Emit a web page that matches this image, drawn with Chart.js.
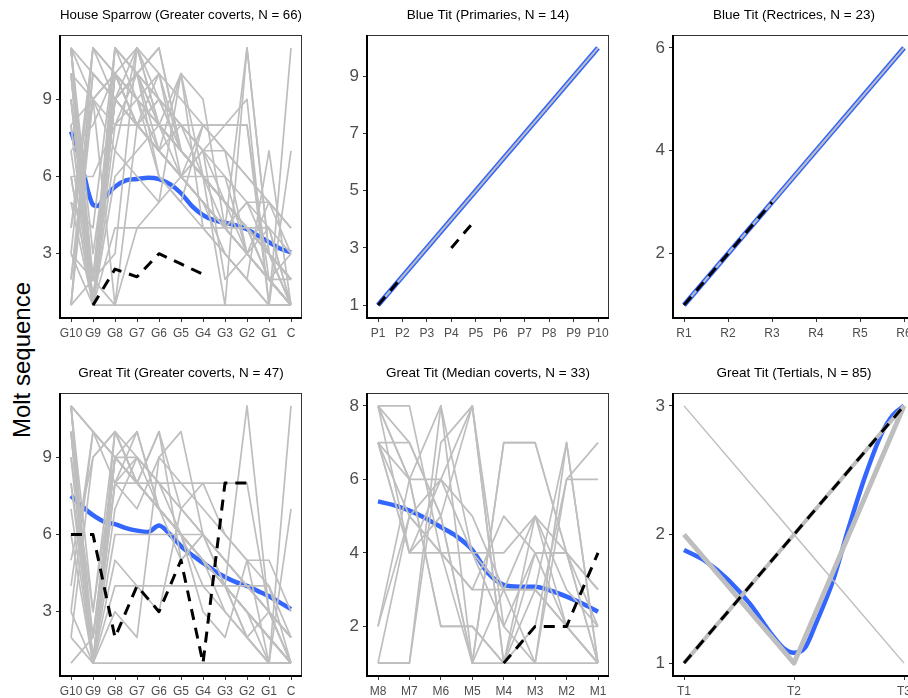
<!DOCTYPE html>
<html><head><meta charset="utf-8">
<script src="https://cdn.jsdelivr.net/npm/chart.js@4/dist/chart.umd.min.js"></script>
<style>
html,body{margin:0;padding:0;background:#fff;width:908px;height:698px;overflow:hidden;position:relative;font-family:"Liberation Sans",Arial,sans-serif;}
canvas{position:absolute;}
#ylab{position:absolute;left:22px;top:360px;transform:translate(-50%,-50%) rotate(-90deg);font-size:24px;white-space:nowrap;color:#000;}
</style></head><body>
<div id="ylab">Molt sequence</div>
<script>
// ---------- House Sparrow, greater coverts ----------
const hsCats = ['G10','G9','G8','G7','G6','G5','G4','G3','G2','G1','C'];
const hsYTicks = [3,6,9];
const hsGray = [
 [11,1,10,9,8,7,6,5,4,3,2],
 [11,10,9,8,7,6,5,4,3,2,1],
 [10,1,11,9,8,7,6,5,4,3,2],
 [11,2,10,9,8,6,7,5,4,3,1],
 [9,1,10,11,8,7,6,5,4,2,3],
 [8,1,9,10,11,7,6,5,4,3,2],
 [11,9,10,8,7,6,5,4,3,2,1],
 [6,6,8,8,8,8,8,8,8,1,1],
 [1,11,10,9,8,7,6,5,4,3,2],
 [2,10,9,11,8,7,6,5,4,3,1],
 [3,1,4,4,4,4,4,4,4,4,1],
 [5,1,6,7,8,10,9,4,3,2,1],
 [4,11,9,10,6,5,8,7,3,2,1],
 [7,1,8,9,10,6,5,4,3,2,1],
 [11,1,9,10,7,8,6,1,11,3,2],
 [10,9,1,8,7,6,5,4,3,2,1],
 [1,2,3,11,10,9,8,7,6,5,4],
 [3,2,1,4,5,6,7,8,9,1,11],
 [10,1,7,11,9,8,7,7,6,5,4],
 [9,1,1,1,1,1,1,1,1,1,1],
 [8,9,7,6,5,10,4,3,2,1,1],
 [5,4,11,10,9,8,7,6,3,2,1],
 [6,1,11,10,9,8,7,2,3,5,4],
 [4,9,10,8,7,6,5,3,2,1,7],
 [3,11,10,8,9,7,6,5,4,2,1],
 [2,9,8,10,11,7,6,5,3,4,1],
 [7,8,10,9,6,5,4,3,2,7,1],
 [1,10,9,8,7,6,5,4,11,3,2],
 [11,1,9,8,10,7,6,5,4,3,2],
 [10,2,9,8,7,6,5,4,5,5,3],
 [8,1,10,9,7,6,8,8,8,2,2],
 [11,3,9,10,8,7,6,5,4,2,1],
 [10,1,9,8,7,10,6,5,4,3,2],
 [9,2,11,10,8,7,6,5,4,3,1],
 [11,1,10,8,9,7,6,4,5,3,2],
 [6,1,9,8,7,6,6,6,5,4,3],
 [1,9,10,8,7,6,5,4,3,2,1]
];
const hsSmoothX = [1,1.2,1.4,1.6,1.8,2,2.2,2.5,3,3.5,4,4.5,5,5.5,6,6.5,7,7.5,8,8.5,9,9.5,10,10.5,11];
const hsSmoothY = [7.75,7.25,6.7,6.05,5.35,4.9,4.85,5.15,5.6,5.85,5.9,5.95,5.9,5.7,5.35,4.85,4.5,4.3,4.2,4.1,3.95,3.7,3.45,3.2,3.05];
const hsDashed = [null,1,2.4,2.1,3,2.6,2.2,null,null,null,null];

// ---------- Blue Tit, primaries ----------
const btpCats = ['P1','P2','P3','P4','P5','P6','P7','P8','P9','P10'];
const btpYTicks = [1,3,5,7,9];
const btpGray = [[1,2,3,4,5,6,7,8,9,10]];
const btpSmoothX = [1,10];
const btpSmoothY = [1,10];
const btpDashed = [1,2,null,3,4,null,null,null,null,null];

// ---------- Blue Tit, rectrices ----------
const btrCats = ['R1','R2','R3','R4','R5','R6'];
const btrYTicks = [2,4,6];
const btrGray = [[1,2,3,4,5,6]];
const btrSmoothX = [1,6];
const btrSmoothY = [1,6];
const btrDashed = [1,2,3,null,null,null];

// ---------- Great Tit, greater coverts ----------
const gtgCats = ['G10','G9','G8','G7','G6','G5','G4','G3','G2','G1','C'];
const gtgYTicks = [3,6,9];
const gtgGray = [
 [11,1,10,9,8,7,6,5,4,3,2],
 [11,10,9,8,7,6,5,4,3,2,1],
 [10,1,9,8,10,7,6,5,4,3,2],
 [9,3,10,8,7,6,5,4,2,3,1],
 [8,1,9,10,7,6,5,4,3,2,1],
 [4,10,9,8,7,6,5,3,2,1,1],
 [3,1,4,4,4,4,4,4,4,4,2],
 [2,9,10,8,7,6,5,4,3,1,1],
 [1,2,8,8,8,8,8,8,8,3,1],
 [11,1,6,6,6,6,6,5,4,3,2],
 [10,1,8,7,9,10,6,5,4,3,2],
 [7,1,9,8,10,5,6,4,3,2,1],
 [11,1,7,9,8,6,5,4,11,3,2],
 [6,1,1,1,1,1,1,1,1,1,1],
 [8,2,9,8,7,6,3,2,5,1,11],
 [5,9,10,8,7,6,4,3,2,1,7],
 [11,10,8,9,7,5,6,4,3,2,1],
 [9,1,8,10,7,6,5,4,3,2,1],
 [3,10,9,8,7,6,5,4,2,1,1],
 [10,1,3,2,9,8,7,6,5,4,1],
 [2,1,5,4,3,7,8,6,5,5,3],
 [11,3,9,8,7,6,5,4,3,2,1],
 [10,2,9,9,8,7,6,5,4,3,1]
];
const gtgSmoothX = [1,1.5,2,2.5,3,3.5,4,4.5,5,5.5,6,6.5,7,7.5,8,8.5,9,9.5,10,10.5,11];
const gtgSmoothY = [7.5,7.1,6.75,6.5,6.4,6.25,6.15,6.1,6.35,6.0,5.55,5.2,4.9,4.6,4.35,4.15,4.0,3.8,3.6,3.35,3.1];
const gtgDashed = [6,6,2,4,3,5,1,8,8,null,null];

// ---------- Great Tit, median coverts ----------
const gtmCats = ['M8','M7','M6','M5','M4','M3','M2','M1'];
const gtmYTicks = [2,4,6,8];
const gtmGray = [
 [8,6,6,4,3,3,2,1],
 [7,7,5,8,1,2,6,7],
 [8,8,4,1,1,1,1,1],
 [2,6,8,1,7,7,4,1],
 [1,1,7,8,2,4,4,2],
 [7,4,4,4,4,5,2,1],
 [8,6,2,2,1,3,7,1],
 [1,5,6,8,1,5,3,2],
 [7,4,6,5,3,3,2,1],
 [8,7,5,1,7,7,4,3],
 [2,5,4,3,5,4,4,3],
 [1,1,8,4,2,1,6,6],
 [7,6,2,2,1,4,2,2],
 [7,5,4,3,3,1,7,1],
 [8,4,5,1,3,5,4,1]
];
const gtmSmoothX = [1,1.5,2,2.5,3,3.5,4,4.5,5,5.5,6,6.5,7,7.5,8];
const gtmSmoothY = [5.4,5.3,5.15,4.95,4.7,4.45,4.08,3.45,3.13,3.08,3.08,2.97,2.81,2.62,2.4];
const gtmDashed = [null,null,null,null,1,2,2,4];

// ---------- Great Tit, tertials ----------
const gttCats = ['T1','T2','T3'];
const gttYTicks = [1,2,3];
const gttGray = [[2,1,3],[1,2,3],[3,2,1]];
const gttSmoothX = [1,1.2,1.4,1.6,1.8,1.9,2,2.1,2.2,2.35,2.5,2.65,2.8,2.9,3];
const gttSmoothY = [1.88,1.79,1.65,1.46,1.22,1.12,1.08,1.12,1.31,1.63,2.06,2.46,2.79,2.93,3.0];
const gttDashed = [1,2,3];

// ---------- drawing ----------
const FONT = '"Liberation Sans", Arial, sans-serif';
const BLUE = '#3366FF', GRAY = '#BEBEBE';

const borderPlugin = {
  id:'panelBorder',
  afterDatasetsDraw(chart){
    const {ctx, chartArea:a} = chart;
    ctx.save();
    ctx.strokeStyle = '#333'; ctx.lineWidth = 1;
    ctx.strokeRect(a.left+0.5, a.top+0.5, a.right-a.left-1, a.bottom-a.top-1);
    ctx.strokeStyle = '#000'; ctx.lineWidth = 2;
    ctx.beginPath(); ctx.moveTo(a.left, a.top); ctx.lineTo(a.left, a.bottom); ctx.lineTo(a.right, a.bottom); ctx.stroke();
    ctx.restore();
  }
};

function makePanel(p){
  const cv = document.createElement('canvas');
  const W = 294, H = 344;
  cv.width = W; cv.height = H;
  cv.style.left = p.left + 'px'; cv.style.top = p.top + 'px';
  cv.style.width = W + 'px'; cv.style.height = H + 'px';
  document.body.appendChild(cv);
  const n = p.cats.length;
  const toPts = arr => arr.map((v,i)=>({x:i+1, y:v}));
  const ds = [];
  ds.push({data:p.sx.map((x,i)=>({x:x, y:p.sy[i]})), borderColor:BLUE, borderWidth:p.blueW, order:3, cubicInterpolationMode:'monotone'});
  p.gray.forEach((g,k)=>ds.push({data:toPts(g), borderColor:GRAY, borderWidth:(p.grayWs ? p.grayWs[k] : p.grayW), order:2}));
  ds.push({data:toPts(p.dash), borderColor:'#000', borderWidth:3, borderDash:[11,8], order:1});
  const yr = p.ymax - p.ymin;
  new Chart(cv, {
    type:'line',
    data:{datasets:ds},
    options:{
      responsive:false, animation:false, events:[],
      spanGaps:false,
      elements:{point:{radius:0}, line:{tension:0, borderCapStyle:'butt', borderJoinStyle:'round', fill:false}},
      layout:{padding:{left:0, right:12, top:0, bottom:0}},
      plugins:{
        legend:{display:false}, tooltip:{enabled:false},
        title:{display:true, text:p.title, fullSize:false, color:'#000', font:{family:FONT, size:13.5, weight:'normal'}, padding:{top:7.5, bottom:11.3}}
      },
      scales:{
        x:{type:'linear', min:1-0.05*(n-1), max:n+0.05*(n-1),
           afterBuildTicks:s=>{ s.ticks = p.cats.map((c,i)=>({value:i+1})); },
           ticks:{autoSkip:false, maxRotation:0, minRotation:0, color:'#4D4D4D', font:{family:FONT, size:12}, padding:4,
                  callback:v=>p.cats[Math.round(v)-1]},
           grid:{drawOnChartArea:false, drawTicks:true, tickLength:4, color:'#333', tickWidth:1},
           border:{display:false},
           afterFit:s=>{ s.height = 26; }},
        y:{type:'linear', min:p.ymin-0.05*yr, max:p.ymax+0.05*yr,
           afterBuildTicks:s=>{ s.ticks = p.yt.map(v=>({value:v})); },
           ticks:{color:'#4D4D4D', font:{family:FONT, size:17}, padding:4, callback:v=>String(v)},
           grid:{drawOnChartArea:false, drawTicks:true, tickLength:4, color:'#333', tickWidth:1},
           border:{display:false},
           afterFit:s=>{ s.width = 40; }}
      }
    },
    plugins:[borderPlugin]
  });
}

const colLeft = [20, 327, 633];
const rowTop = [0, 358];

makePanel({title:'House Sparrow (Greater coverts, N = 66)', cats:hsCats, yt:hsYTicks, ymin:1, ymax:11,
  gray:hsGray, grayW:1.7, sx:hsSmoothX, sy:hsSmoothY, blueW:4.5, dash:hsDashed, left:colLeft[0], top:rowTop[0]});
makePanel({title:'Blue Tit (Primaries, N = 14)', cats:btpCats, yt:btpYTicks, ymin:1, ymax:10,
  gray:btpGray, grayW:2, sx:btpSmoothX, sy:btpSmoothY, blueW:5, dash:btpDashed, left:colLeft[1], top:rowTop[0]});
makePanel({title:'Blue Tit (Rectrices, N = 23)', cats:btrCats, yt:btrYTicks, ymin:1, ymax:6,
  gray:btrGray, grayW:2, sx:btrSmoothX, sy:btrSmoothY, blueW:5, dash:btrDashed, left:colLeft[2], top:rowTop[0]});
makePanel({title:'Great Tit (Greater coverts, N = 47)', cats:gtgCats, yt:gtgYTicks, ymin:1, ymax:11,
  gray:gtgGray, grayW:1.7, sx:gtgSmoothX, sy:gtgSmoothY, blueW:4.5, dash:gtgDashed, left:colLeft[0], top:rowTop[1]});
makePanel({title:'Great Tit (Median coverts, N = 33)', cats:gtmCats, yt:gtmYTicks, ymin:1, ymax:8,
  gray:gtmGray, grayW:1.7, sx:gtmSmoothX, sy:gtmSmoothY, blueW:4.5, dash:gtmDashed, left:colLeft[1], top:rowTop[1]});
makePanel({title:'Great Tit (Tertials, N = 85)', cats:gttCats, yt:gttYTicks, ymin:1, ymax:3,
  gray:gttGray, grayWs:[5,4,1.5], sx:gttSmoothX, sy:gttSmoothY, blueW:4.5, dash:gttDashed, left:colLeft[2], top:rowTop[1]});
</script>
</body></html>
